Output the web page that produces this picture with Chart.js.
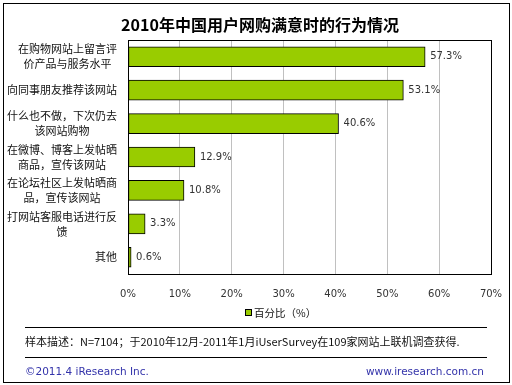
<!DOCTYPE html>
<html>
<head>
<meta charset="utf-8">
<script src="https://cdn.jsdelivr.net/npm/chart.js@4/dist/chart.umd.min.js"></script>
<style>
  html, body { margin: 0; padding: 0; background: #fff; }
  #wrap { width: 512px; height: 385px; position: relative; }
</style>
</head>
<body>
<div id="wrap"><canvas id="c" width="512" height="385"></canvas></div>
<script>
// data
const categories = [
  ["在购物网站上留言评", "价产品与服务水平"],
  ["向同事朋友推荐该网站"],
  ["什么也不做，下次仍去", "该网站购物"],
  ["在微博、博客上发帖晒", "商品，宣传该网站"],
  ["在论坛社区上发帖晒商", "品，宣传该网站"],
  ["打网站客服电话进行反", "馈"],
  ["其他"]
];
const percentValues = [57.3, 53.1, 40.6, 12.9, 10.8, 3.3, 0.6];
const seriesName = "百分比（%）";
const xTicks = [0, 10, 20, 30, 40, 50, 60, 70];
const chartTitle = "2010年中国用户网购满意时的行为情况";

const cjk = '"Noto Sans CJK SC", "Noto Sans", sans-serif';
const latin = '"DejaVu Sans", sans-serif';

// draws title, frame, category labels, value labels, legend and footer
const decorPlugin = {
  id: "decor",
  afterDraw(chart) {
    const ctx = chart.ctx;
    const y = chart.scales.y;
    const area = chart.chartArea;
    ctx.save();

    // title
    ctx.font = "bold 16px " + cjk;
    ctx.fillStyle = "#000";
    ctx.textAlign = "center";
    ctx.textBaseline = "middle";
    ctx.fillText(chartTitle, 260, 25);

    // plot border
    ctx.strokeStyle = "#000";
    ctx.lineWidth = 1;
    ctx.strokeRect(Math.round(area.left) + 0.5, Math.round(area.top) + 0.5,
      Math.round(area.right - area.left), Math.round(area.bottom - area.top));

    // category labels: lines centered on each other, block right-aligned
    ctx.font = "11px " + cjk;
    ctx.fillStyle = "#111";
    const lineH = 15;
    categories.forEach((lines, i) => {
      const cy = y.getPixelForValue(i);
      const widest = Math.max(...lines.map(l => ctx.measureText(l).width));
      const cx = area.left - 11 - widest / 2;
      lines.forEach((l, k) => {
        ctx.fillText(l, cx, cy + (k - (lines.length - 1) / 2) * lineH);
      });
    });

    // value labels
    ctx.font = "10px " + latin;
    ctx.fillStyle = "#333";
    ctx.textAlign = "left";
    const meta = chart.getDatasetMeta(0);
    meta.data.forEach((bar, i) => {
      ctx.fillText(percentValues[i].toFixed(1) + "%", bar.x + 5, bar.y);
    });

    // legend
    ctx.fillStyle = "#99cc00";
    ctx.fillRect(245.5, 309.5, 6, 6);
    ctx.strokeStyle = "#000";
    ctx.strokeRect(245.5, 309.5, 6, 6);
    ctx.font = "10.5px " + cjk;
    ctx.fillStyle = "#111";
    ctx.fillText(seriesName, 254, 313);

    // footer lines and notes
    ctx.beginPath();
    ctx.moveTo(25, 327.5); ctx.lineTo(487, 327.5);
    ctx.moveTo(25, 357.5); ctx.lineTo(487, 357.5);
    ctx.stroke();

    ctx.font = "11px " + cjk;
    ctx.fillStyle = "#111";
    ctx.fillText("样本描述：N=7104；于2010年12月-2011年1月iUserSurvey在109家网站上联机调查获得.", 25, 342);

    ctx.font = "10.5px " + latin;
    ctx.fillStyle = "#3333aa";
    ctx.fillText("©2011.4 iResearch Inc.", 25, 372);
    ctx.textAlign = "right";
    ctx.fillText("www.iresearch.com.cn", 484, 372);

    // outer frame
    ctx.strokeStyle = "#000";
    ctx.strokeRect(3.5, 3.5, 506, 379);
    ctx.restore();
  }
};

new Chart(document.getElementById("c"), {
  type: "bar",
  data: {
    labels: categories,
    datasets: [{
      label: seriesName,
      data: percentValues,
      backgroundColor: "#99cc00",
      borderColor: "#000",
      borderWidth: 1,
      borderSkipped: false,
      barThickness: 20
    }]
  },
  options: {
    indexAxis: "y",
    responsive: false,
    animation: false,
    layout: { padding: { left: 0, right: 21, top: 40, bottom: 71 } },
    scales: {
      x: {
        min: 0,
        max: 70,
        afterBuildTicks: s => { s.ticks = xTicks.map(v => ({ value: v })); },
        afterFit: s => { s.height = 40; s.paddingLeft = 0; s.paddingRight = 0; },
        grid: { color: "#c0c0c0", drawTicks: false },
        border: { display: false },
        ticks: {
          padding: 14,
          color: "#333",
          font: { family: latin, size: 10 },
          callback: v => v + "%"
        }
      },
      y: {
        afterFit: s => { s.width = 128; },
        grid: { display: false },
        border: { display: false },
        ticks: { display: false }
      }
    },
    plugins: {
      title: { display: false },
      legend: { display: false },
      tooltip: { enabled: false }
    }
  },
  plugins: [decorPlugin]
});
</script>
</body>
</html>
